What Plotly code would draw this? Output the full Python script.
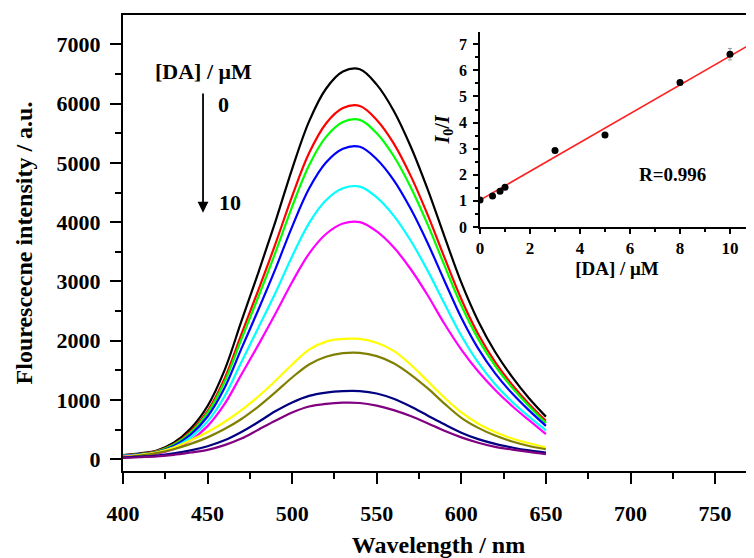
import plotly.graph_objects as go

# ---------------- data ----------------
wavelength = [400, 410, 420, 430, 440, 450, 460, 470, 480, 490, 500, 510, 520,
              530, 540, 550, 560, 570, 580, 590, 600, 610, 620, 630, 640, 650]

series_colors = ["#000000", "#FF0000", "#00FF00", "#0000FF", "#00FFFF",
                 "#FF00FF", "#FFFF00", "#808000", "#000080", "#800080"]

s_black   = [70, 100, 150, 280, 520, 900, 1500, 2330, 3150, 4000, 4900, 5700, 6250,
             6540, 6580, 6320, 5880, 5280, 4560, 3760, 2980, 2330, 1810, 1390, 1030, 720]
s_red     = [66, 92, 138, 256, 472, 815, 1360, 2110, 2855, 3625, 4440, 5165, 5665,
             5925, 5960, 5725, 5330, 4785, 4130, 3405, 2700, 2110, 1640, 1260, 935, 650]
s_green   = [64, 88, 132, 245, 452, 783, 1305, 2027, 2740, 3480, 4263, 4960, 5438,
             5690, 5725, 5500, 5116, 4594, 3967, 3271, 2593, 2027, 1575, 1209, 896, 610]
s_blue    = [60, 82, 122, 226, 418, 722, 1202, 1866, 2523, 3204, 3925, 4566, 5006,
             5239, 5271, 5062, 4710, 4229, 3653, 3012, 2387, 1866, 1450, 1113, 825, 565]
s_cyan    = [58, 75, 110, 200, 370, 640, 1060, 1640, 2220, 2800, 3425, 3985, 4370,
             4571, 4600, 4418, 4110, 3690, 3187, 2628, 2083, 1629, 1265, 972, 720, 490]
s_magenta = [55, 65, 95, 175, 320, 560, 930, 1430, 1930, 2450, 2990, 3470, 3800,
             3976, 4000, 3843, 3575, 3210, 2772, 2286, 1850, 1480, 1170, 900, 660, 425]
s_yellow  = [40, 75, 120, 200, 320, 460, 630, 830, 1060, 1320, 1600, 1850, 1985,
             2030, 2030, 1965, 1830, 1600, 1320, 1040, 790, 600, 460, 350, 270, 198]
s_olive   = [38, 65, 105, 170, 260, 370, 510, 680, 890, 1130, 1380, 1600, 1730,
             1790, 1795, 1740, 1620, 1430, 1200, 940, 700, 530, 400, 300, 225, 170]
s_navy    = [28, 45, 65, 100, 150, 220, 320, 460, 630, 810, 960, 1070, 1125,
             1150, 1150, 1110, 1020, 890, 740, 590, 450, 340, 260, 200, 150, 112]
s_purple  = [22, 35, 50, 75, 115, 160, 240, 350, 500, 650, 790, 890, 935,
             955, 950, 905, 830, 730, 610, 480, 370, 280, 210, 165, 125, 89]

spectra = [s_black, s_red, s_green, s_blue, s_cyan,
           s_magenta, s_yellow, s_olive, s_navy, s_purple]

# inset: I0/I vs [DA]
da_conc = [0, 0.5, 0.8, 1.0, 3, 5, 8, 10]
i0_over_i = [1.03, 1.19, 1.37, 1.52, 2.93, 3.52, 5.54, 6.62]
i0_err = [0.03, 0.03, 0.03, 0.03, 0.05, 0.05, 0.08, 0.22]
fit_intercept = 1.03
fit_slope = 0.552
fit_x = [0, 11]

x_ticks = [400, 450, 500, 550, 600, 650, 700, 750]
y_ticks = [0, 1000, 2000, 3000, 4000, 5000, 6000, 7000]
inset_x_ticks = [0, 2, 4, 6, 8, 10]
inset_y_ticks = [0, 1, 2, 3, 4, 5, 6, 7]

FONT = "Liberation Serif"

fig = go.Figure()

for vals, col in zip(spectra, series_colors):
    fig.add_trace(go.Scatter(
        x=wavelength, y=vals, mode="lines",
        line=dict(color=col, width=2.2, shape="spline", smoothing=1.0),
        showlegend=False, xaxis="x", yaxis="y"))

fig.add_trace(go.Scatter(
    x=fit_x, y=[fit_intercept + fit_slope * v for v in fit_x], mode="lines",
    line=dict(color="#FF2020", width=1.6), showlegend=False,
    xaxis="x2", yaxis="y2"))
fig.add_trace(go.Scatter(
    x=da_conc, y=i0_over_i, mode="markers",
    marker=dict(color="black", size=7),
    error_y=dict(type="data", array=i0_err, color="#999999", thickness=1, width=2),
    showlegend=False, xaxis="x2", yaxis="y2"))

tickfont = dict(family=FONT, size=22, color="black", weight="bold")
titlefont = dict(family=FONT, size=24, color="black", weight="bold")

# the page body has an 8px default margin, so the figure is sized to fit inside it
fig.update_layout(
    width=746, height=550,
    margin=dict(l=115, r=0, t=7, b=87),
    paper_bgcolor="white", plot_bgcolor="white",
    showlegend=False,
    xaxis=dict(
        domain=[0, 1], range=[400, 773], tickmode="array", tickvals=x_ticks,
        ticks="outside", ticklen=11, tickwidth=2, tickcolor="black",
        minor=dict(dtick=25, tick0=400, ticks="outside", ticklen=6, tickwidth=2, tickcolor="black"),
        showline=True, linewidth=2, linecolor="black", mirror=True,
        showgrid=False, zeroline=False, tickfont=tickfont,
        ticklabelstandoff=11, automargin=False,
        title=dict(text="Wavelength / nm", font=titlefont, standoff=11),
        anchor="y"),
    yaxis=dict(
        domain=[0, 1], range=[-197, 7494], tickmode="array", tickvals=y_ticks,
        ticks="outside", ticklen=11, tickwidth=2, tickcolor="black",
        minor=dict(dtick=500, tick0=0, ticks="outside", ticklen=6, tickwidth=2, tickcolor="black"),
        showline=True, linewidth=2, linecolor="black", mirror=False,
        showgrid=False, zeroline=False, tickfont=tickfont,
        ticklabelstandoff=5, automargin=False,
        title=dict(text="Flourescecne intensity / a.u.", font=titlefont, standoff=17),
        anchor="x"),
    xaxis2=dict(
        domain=[0.5658, 1.0], range=[0, 10.96], tickmode="array", tickvals=inset_x_ticks,
        ticks="outside", ticklen=5, tickwidth=1.5, tickcolor="black",
        minor=dict(dtick=1, tick0=0, ticks="outside", ticklen=3, tickwidth=1.5, tickcolor="black"),
        showline=True, linewidth=1.5, linecolor="black",
        showgrid=False, zeroline=False, automargin=False,
        tickfont=dict(family=FONT, size=17, color="black", weight="bold"),
        ticklabelstandoff=0,
        title=dict(text="[DA] / μM", font=dict(family=FONT, size=19, color="black", weight="bold"), standoff=0),
        anchor="y2"),
    yaxis2=dict(
        domain=[0.5351, 0.9627], range=[0, 7.47], tickmode="array", tickvals=inset_y_ticks,
        ticks="outside", ticklen=5, tickwidth=1.5, tickcolor="black",
        minor=dict(dtick=0.5, tick0=0, ticks="outside", ticklen=3, tickwidth=1.5, tickcolor="black"),
        showline=True, linewidth=1.5, linecolor="black",
        showgrid=False, zeroline=False, automargin=False,
        tickfont=dict(family=FONT, size=16, color="black", weight="bold"),
        ticklabelstandoff=3,
        title=dict(text="<i>I</i><sub>0</sub>/<i>I</i>", font=dict(family=FONT, size=20, color="black", weight="bold"), standoff=4),
        anchor="x2"),
)

annot_font = dict(family=FONT, size=22, color="black", weight="bold")
fig.add_annotation(x=447.3, y=6535, xref="x", yref="y", text="[DA] / μM",
                   showarrow=False, font=annot_font)
fig.add_annotation(x=459.5, y=5990, xref="x", yref="y", text="0",
                   showarrow=False, font=annot_font)
fig.add_annotation(x=463.5, y=4326, xref="x", yref="y", text="10",
                   showarrow=False, font=annot_font)
fig.add_annotation(x=447.3, y=4160, ax=447.3, ay=6195, xref="x", yref="y",
                   axref="x", ayref="y", text="", showarrow=True,
                   arrowhead=2, arrowsize=1.2, arrowwidth=1.8, arrowcolor="black")
fig.add_annotation(x=7.68, y=2.03, xref="x2", yref="y2", text="R=0.996",
                   showarrow=False, font=dict(family=FONT, size=19, color="black", weight="bold"))

fig.write_html("out.html")
